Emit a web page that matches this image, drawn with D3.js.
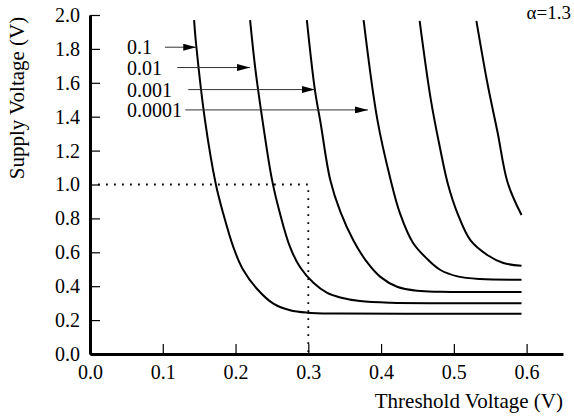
<!DOCTYPE html>
<meta charset="utf-8">
<script src="https://d3js.org/d3.v7.min.js"></script>
<style>
  body { margin: 0; background: #fff; }
  text { font-family: "Liberation Serif", "Times New Roman", serif; fill: #000; }
</style>
<div id="chart"></div>
<script>
  var width = 574
  var height = 418

  // curve labels (leakage ratio), one curve per label, plus two more without label
  var labels = ["0.1", "0.01", "0.001", "0.0001"]

  // [threshold voltage, supply voltage]
  var curve1 = [[0.143,1.97],[0.146,1.82],[0.158,1.38],[0.173,1.0],[0.183,0.83],[0.197,0.63],[0.210,0.50],[0.230,0.382],[0.252,0.297],[0.275,0.258],[0.298,0.244],[0.344,0.239],[0.45,0.238],[0.593,0.237]]
  var curve2 = [[0.220,1.97],[0.227,1.69],[0.237,1.38],[0.250,1.03],[0.261,0.83],[0.275,0.63],[0.289,0.51],[0.307,0.42],[0.326,0.36],[0.344,0.333],[0.371,0.312],[0.413,0.302],[0.50,0.300],[0.593,0.300]]
  var curve3 = [[0.298,1.97],[0.309,1.56],[0.317,1.36],[0.330,1.03],[0.344,0.84],[0.362,0.67],[0.381,0.54],[0.399,0.455],[0.422,0.397],[0.450,0.373],[0.481,0.367],[0.593,0.366]]
  var curve4 = [[0.376,1.97],[0.395,1.38],[0.413,1.03],[0.426,0.83],[0.444,0.655],[0.464,0.558],[0.481,0.497],[0.505,0.458],[0.536,0.442],[0.593,0.438]]
  var curve5 = [[0.453,1.965],[0.468,1.51],[0.481,1.215],[0.492,1.0],[0.505,0.83],[0.523,0.67],[0.546,0.584],[0.568,0.537],[0.593,0.52]]
  var curve6 = [[0.531,1.965],[0.546,1.60],[0.560,1.31],[0.574,1.01],[0.593,0.82]]
  var curves = [curve1, curve2, curve3, curve4, curve5, curve6]

  // arrow from label towards curve: [start Vth, tip Vth, Vdd]
  var arrows = [[0.103,0.146,1.81],[0.120,0.220,1.69],[0.135,0.309,1.56],[0.131,0.382,1.44]]

  var xTicks = [0, 0.1, 0.2, 0.3, 0.4, 0.5, 0.6]
  var yTicks = [0, 0.2, 0.4, 0.6, 0.8, 1.0, 1.2, 1.4, 1.6, 1.8, 2.0]

  // operating point marked by the dotted lines
  var opPoint = [0.3, 1.0]

  var svg = d3.select("#chart")
    .append("svg")
      .attr("width", width)
      .attr("height", height)

  var x = d3.scaleLinear().domain([0, 0.65]).range([90, 563])
  var y = d3.scaleLinear().domain([0, 2.0]).range([354, 15])

  // axes
  var yAxis = svg.append("g")
    .attr("transform", "translate(90,0)")
    .call(d3.axisLeft(y).tickValues(yTicks).tickFormat(d3.format(".1f"))
      .tickSizeInner(-10).tickSizeOuter(0).tickPadding(10))
  var xAxis = svg.append("g")
    .attr("transform", "translate(0,354)")
    .call(d3.axisBottom(x).tickValues(xTicks).tickFormat(d3.format(".1f"))
      .tickSizeInner(-10).tickSizeOuter(0).tickPadding(11))

  svg.selectAll(".domain").attr("stroke", "#000").attr("stroke-width", 3)
  svg.selectAll(".tick line").attr("stroke", "#000").attr("stroke-width", 1.2)
  svg.selectAll(".tick text")
    .style("font-family", "Liberation Serif")
    .style("font-size", "20px")

  // dotted guide lines
  svg.append("path")
    .attr("d", "M" + x(0) + "," + y(opPoint[1]) + "H" + x(opPoint[0]) + "V" + y(0))
    .attr("fill", "none")
    .attr("stroke", "#000")
    .attr("stroke-width", 1.8)
    .attr("stroke-dasharray", "1.8,6.2")

  // curves
  var line = d3.line()
    .x(function(d){ return x(d[0]) })
    .y(function(d){ return y(d[1]) })
    .curve(d3.curveCatmullRom.alpha(0.5))

  svg.append("g")
    .selectAll("path")
    .data(curves)
    .enter()
    .append("path")
      .attr("d", line)
      .attr("fill", "none")
      .attr("stroke", "#000")
      .attr("stroke-width", 2)

  // labels with arrows
  svg.append("defs").append("marker")
      .attr("id", "head")
      .attr("viewBox", "0 0 13 7")
      .attr("refX", 13)
      .attr("refY", 3.5)
      .attr("markerWidth", 13)
      .attr("markerHeight", 7)
      .attr("markerUnits", "userSpaceOnUse")
      .attr("orient", "auto")
    .append("path")
      .attr("d", "M0,0L13,3.5L0,7Z")
      .attr("fill", "#000")

  svg.append("g")
    .selectAll("text")
    .data(labels)
    .enter()
    .append("text")
      .attr("x", 127)
      .attr("y", function(d, i){ return y(arrows[i][2]) + 7 })
      .style("font-size", "20px")
      .text(function(d){ return d })

  svg.append("g")
    .selectAll("line")
    .data(arrows)
    .enter()
    .append("line")
      .attr("x1", function(d){ return x(d[0]) })
      .attr("x2", function(d){ return x(d[1]) })
      .attr("y1", function(d){ return y(d[2]) })
      .attr("y2", function(d){ return y(d[2]) })
      .attr("stroke", "#333")
      .attr("stroke-width", 1)
      .attr("marker-end", "url(#head)")

  // titles
  svg.append("text")
    .attr("transform", "translate(24,98) rotate(-90)")
    .attr("text-anchor", "middle")
    .style("font-size", "21px")
    .text("Supply Voltage (V)")

  svg.append("text")
    .attr("x", 563)
    .attr("y", 408)
    .attr("text-anchor", "end")
    .style("font-size", "21px")
    .text("Threshold Voltage (V)")

  svg.append("text")
    .attr("x", 571)
    .attr("y", 19)
    .attr("text-anchor", "end")
    .style("font-size", "19px")
    .text("α=1.3")
</script>
